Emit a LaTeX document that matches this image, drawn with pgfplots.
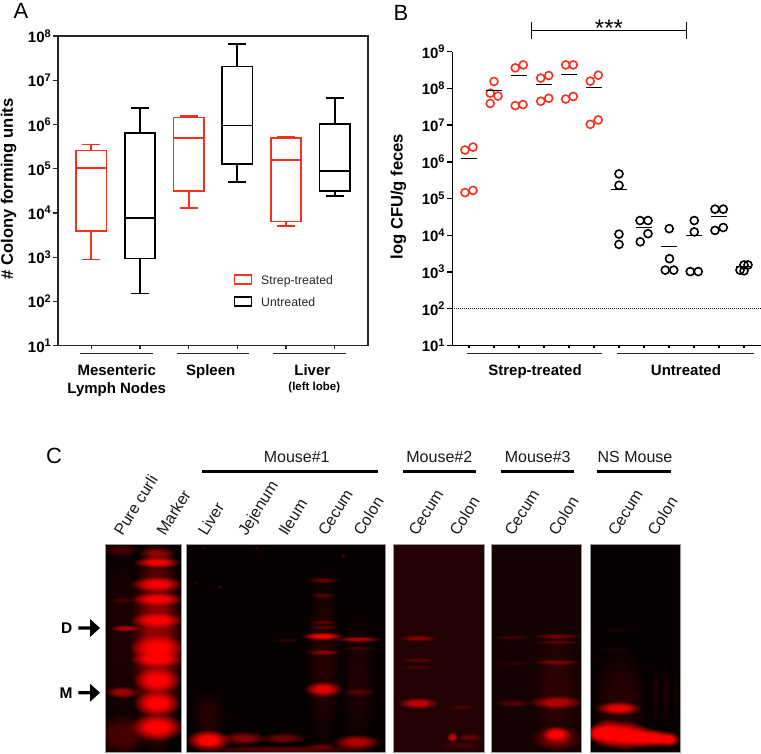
\documentclass[border=0pt]{standalone}
\usepackage{fontspec}
\setmainfont{Liberation Sans}
\usepackage{pgfplots}
\usepackage{pgfplotstable}
\pgfplotsset{compat=1.18}
\usepgfplotslibrary{statistics}
\definecolor{sred}{HTML}{F5301C}
\newcommand\fs[1]{\fontsize{#1}{#1}\selectfont}
\newcommand\tl[1]{\bfseries 10\raisebox{5.5pt}{\fs{11}#1}}

\pgfdeclareradialshading[gelcol]{gelfade}{\pgfpointorigin}{color(0bp)=(gelcol);color(9bp)=(gelcol);color(16bp)=(gelcol!55!black);color(25bp)=(black);color(50bp)=(black)}
% one blurred gel band: x, y, half width, half height, brightness
\newcommand\gelbands[1]{\foreach \bx/\by/\brx/\bry/\blev in {#1}{%
 \colorlet{gelcol}{red!\blev!black}%
 \shade[shading=gelfade,blend mode=screen] (\bx,\by) ellipse ({\brx pt} and {\bry pt});}}
\newcommand\gelpanel[4]{\begin{scope}
 \fill[#3] (#1,544.7) rectangle (#2,752);
 \clip (#1,544.7) rectangle (#2,752);
 \gelbands{#4}
 \end{scope}
 \draw[black!40,line width=.7pt] (#1,544.7) rectangle (#2,752);}

\pgfplotstableread{
x y
0.84 2.09e6
1.16 2.51e6
0.84 1.45e5
1.16 1.66e5
1.85 7.41e7
2.00 1.55e8
2.16 6.17e7
1.85 3.89e7
2.85 3.63e8
3.17 4.37e8
2.85 3.39e7
3.16 3.63e7
3.87 1.91e8
4.19 2.24e8
3.87 4.47e7
4.19 5.37e7
4.87 4.37e8
5.17 4.37e8
4.87 5.13e7
5.17 6.03e7
5.85 1.58e8
6.17 2.29e8
5.85 1.05e7
6.17 1.38e7
}\redpts
\pgfplotstableread{
x y
7.00 4.68e5
7.00 2.29e5
7.00 1.07e4
7.00 5.62e3
7.84 2.51e4
8.16 2.51e4
8.16 1.10e4
7.85 6.61e3
9.01 1.51e4
9.02 2.29e3
8.85 1.12e3
9.19 1.12e3
10.01 2.51e4
10.01 1.23e4
9.85 1.02e3
10.17 1.02e3
10.84 1.35e4
11.17 1.62e4
10.84 5.13e4
11.17 5.13e4
11.84 1.12e3
12.16 1.55e3
12.00 1.07e3
12.00 1.55e3
}\blackpts
\pgfplotstableread{
x y
1 1.26e6
2 8.70e7
3 2.24e8
4 1.26e8
5 2.45e8
6 1.05e8
7 1.74e5
8 1.66e4
9 4.90e3
10 9.80e3
11 3.31e4
12 1.38e3
}\meanpts

\definecolor{bgA}{HTML}{050000}
\definecolor{bgB}{HTML}{060000}
\definecolor{bgC}{HTML}{220202}
\definecolor{bgD}{HTML}{140101}
\definecolor{bgE}{HTML}{070000}

\begin{document}
\begin{tikzpicture}
\useasboundingbox (0,0) rectangle (761pt,-753pt);
% Panel A: values as log10 of the colony count
\begin{axis}[at={(58pt,-345.7pt)},anchor=south west,scale only axis,width=310pt,height=309.7pt,
 ymin=1,ymax=8,xmin=0.315,xmax=6.685,
 xtick={1,2,3,4,5,6},xticklabels={},
 ytick={1,2,3,4,5,6,7,8},
 yticklabels={\tl{1},\tl{2},\tl{3},\tl{4},\tl{5},\tl{6},\tl{7},\tl{8}},
 ytick pos=left,xtick pos=bottom,tick align=outside,
 major tick length=5pt,
 xtick style={black!85,line width=1.1pt,/pgfplots/major tick length=3pt},
 ytick style={black!85,line width=1.3pt},
 axis line style={black!85,line width=1.3pt},
 yticklabel style={font=\fs{15},inner sep=1pt,xshift=-1pt},
 boxplot/draw direction=y,boxplot/box extend=0.62,boxplot/whisker extend=0.37]
\addplot[sred,line width=1.7pt,solid,boxplot prepared={draw position=1,lower whisker=2.95,lower quartile=3.60,median=5.02,upper quartile=5.41,upper whisker=5.55}] coordinates {};
\addplot[black,line width=1.7pt,solid,boxplot prepared={draw position=2,lower whisker=2.18,lower quartile=2.97,median=3.89,upper quartile=5.80,upper whisker=6.37}] coordinates {};
\addplot[sred,line width=1.7pt,solid,boxplot prepared={draw position=3,lower whisker=4.11,lower quartile=4.50,median=5.70,upper quartile=6.16,upper whisker=6.19}] coordinates {};
\addplot[black,line width=1.7pt,solid,boxplot prepared={draw position=4,lower whisker=4.70,lower quartile=5.11,median=5.98,upper quartile=7.31,upper whisker=7.82}] coordinates {};
\addplot[sred,line width=1.7pt,solid,boxplot prepared={draw position=5,lower whisker=3.71,lower quartile=3.81,median=5.20,upper quartile=5.69,upper whisker=5.72}] coordinates {};
\addplot[black,line width=1.7pt,solid,boxplot prepared={draw position=6,lower whisker=4.39,lower quartile=4.50,median=4.95,upper quartile=6.01,upper whisker=6.60}] coordinates {};
\end{axis}
% Panel B
\begin{axis}[at={(452.3pt,-345.3pt)},anchor=south west,scale only axis,width=308.7pt,height=293.6pt,
 ymode=log,ymin=1e1,ymax=1e9,xmin=0.333,xmax=12.68,
 xtick={1,2,3,4,5,6,7,8,9,10,11,12},xticklabels={},
 ytick={1e1,1e2,1e3,1e4,1e5,1e6,1e7,1e8,1e9},
 yticklabels={\tl{1},\tl{2},\tl{3},\tl{4},\tl{5},\tl{6},\tl{7},\tl{8},\tl{9}},
 axis x line*=bottom,axis y line*=left,axis line style={black,line width=1.5pt,-},
 tick align=outside,yminorticks=false,
 major tick length=5.5pt,
 xtick style={black,line width=1.1pt,/pgfplots/major tick length=3pt},
 ytick style={black,line width=1.4pt},
 yticklabel style={font=\fs{15},inner sep=1pt,xshift=-1pt}]
\addplot[black,densely dotted,line width=1pt] coordinates {(0.333,100) (12.68,100)};
\addplot[only marks,mark=o,mark size=4pt,mark options={draw=sred,line width=1.6pt}] table {\redpts};
\addplot[only marks,mark=o,mark size=4pt,mark options={draw=black,line width=1.6pt}] table {\blackpts};
\addplot[only marks,mark=-,mark size=8pt,mark options={draw=black,line width=1.1pt}] table {\meanpts};
\end{axis}
% Annotations and gels
\begin{scope}[x=1pt,y=-1pt]
\gelpanel{105}{181.7}{bgA}{122/640/26/110/9,120/550/20/7/20,122/735/30/22/24,125/628/16/3.5/62,122/600/12/3/18,122/692/18/6/58,
 156.7/645/27/115/55,156.7/553/20/6/45,156.7/562/24/6/90,156.7/584/27/8/90,156.7/599/27/7/90,156.7/620/27/8/95,156.7/648/28/14/100,156.7/659/27/8/100,156.7/680/24/13/100,156.7/703/24/13/100,156.7/727/28/14/100}
\gelpanel{186.7}{385.7}{bgB}{208/715/18/26/12,285/749/99/4/30,208/740/23/11/100,243/738/24/7/48,283/738/24/6/38,356/742/25/8/65,322/746/16/3/30,
 323/660/18/95/12,358/680/19/75/9,323/580/18/3/32,323/595/14/3/25,323/622/16/2.5/24,323/627/16/2.5/24,322/636/22/4/90,323/652/19/3/45,323/689/20/8/85,
 358/639/25/3/60,358/648/20/2.5/15,358/692/18/4/22,287/640/14/2.5/15,220/587/2/2/35,343/556/2/2/45,203/548/2/2/22,256/548/2/2/22,195/583/2/2/20}
\gelpanel{393.7}{484}{bgC}{418/638/20/3.5/42,418/660/19/2.5/22,418/667/19/2.5/15,418/703/21/6/68,460/707/16/3/15,470/737/13/4/30,452/737/6/5/70,460/745/23/4/15}
\gelpanel{491.7}{581.7}{bgD}{556/690/24/65/10,513/637/19/2.5/18,513/663/19/2.5/10,513/703/19/4/25,557/636/25/3/35,557/642/25/2.5/25,557/662/26/3/35,556/702/28/7/62,556/738/26/13/42,556/734/15/8/100}
\gelpanel{590}{680}{bgE}{620/700/28/55/12,655/695/4/35/8,665/695/4/35/8,675/695/3/35/6,615/630/14/2.5/8,615/649/16/2.5/8,618/708/24/7/88,598/733/12/9/100,608/733/20/15/100,625/735/24/15/100,642/737/19/11/100,656/738/15/9/100,668/739/12/8/100}
\node[anchor=base,font=\fs{22}] at (21,18.7) {A};
\node[anchor=base,font=\fs{22}] at (401,20) {B};
\node[anchor=base,font=\fs{22}] at (54,463) {C};
\node[rotate=90,font=\fs{16.6}\bfseries] at (8.5,189) {\# Colony forming units};
\node[rotate=90,font=\fs{16.6}\bfseries] at (398.3,196.7) {log CFU/g feces};
\foreach \a/\b in {80.3/152.7,176.7/249.3,273.3/345.7}{\draw[black!85,line width=.9pt] (\a,353.3)--(\b,353.3);}
\foreach \a/\b in {467.3/602.3,617/754}{\draw[black!85,line width=.9pt] (\a,353.3)--(\b,353.3);}
\node[anchor=base,font=\fs{15}\bfseries] at (116.7,375) {Mesenteric};
\node[anchor=base,font=\fs{15}\bfseries] at (116.7,393) {Lymph Nodes};
\node[anchor=base,font=\fs{15}\bfseries] at (210.7,375) {Spleen};
\node[anchor=base,font=\fs{15}\bfseries] at (312.3,375) {Liver};
\node[anchor=base,font=\fs{11.5}\bfseries] at (314.3,390.7) {(left lobe)};
\node[anchor=base,font=\fs{15}\bfseries] at (535,375) {Strep-treated};
\node[anchor=base,font=\fs{15}\bfseries] at (686,375) {Untreated};
\draw[sred,line width=1.7pt] (234.6,275.3) rectangle (251.4,284);
\draw[black,line width=1.7pt] (234.6,297) rectangle (251.4,305.7);
\node[anchor=base west,inner sep=0pt,font=\fs{12.3},text=black!85] at (261,284) {Strep-treated};
\node[anchor=base west,inner sep=0pt,font=\fs{12.3},text=black!85] at (261,306) {Untreated};
\draw[black,line width=1pt] (531.7,30)--(686,30) (531.7,21.7)--(531.7,39) (686,21.7)--(686,39);
\node[anchor=base,font=\fs{24}] at (609,36) {***};
% headers
\foreach \cx/\lab/\a/\b in {296.7/Mouse\#1/202.3/378.3,439.3/Mouse\#2/402.7/476,537.7/Mouse\#3/501/574.3,635/NS Mouse/597.3/670.7}{
 \node[anchor=base,font=\fs{16},text=black!90] at (\cx,462.7) {\lab};
 \draw[black,line width=3.6pt] (\a,471.3)--(\b,471.3);
}
% lane labels
\foreach \x/\lab in {122.5/Pure curli,165/Marker,206.5/Liver,246.5/Jejenum,287/Ileum,326.5/Cecum,362/Colon,417/Cecum,458/Colon,513/Cecum,557/Colon,616.5/Cecum,656/Colon}{
 \node[anchor=base west,inner sep=0pt,rotate=58,font=\fs{16},text=black!90] at (\x,537) {\lab};
}
% arrows
\node[anchor=base,font=\fs{15.5}\bfseries] at (66.7,633) {D};
\node[anchor=base,font=\fs{15.5}\bfseries] at (66,698) {M};
\foreach \y in {628,692.7}{
 \fill[black] (78.3,\y-1.7)--(90,\y-1.7)--(90,\y-9)--(100,\y)--(90,\y+9)--(90,\y+1.7)--(78.3,\y+1.7)--cycle;
}
\end{scope}
\end{tikzpicture}
\end{document}
